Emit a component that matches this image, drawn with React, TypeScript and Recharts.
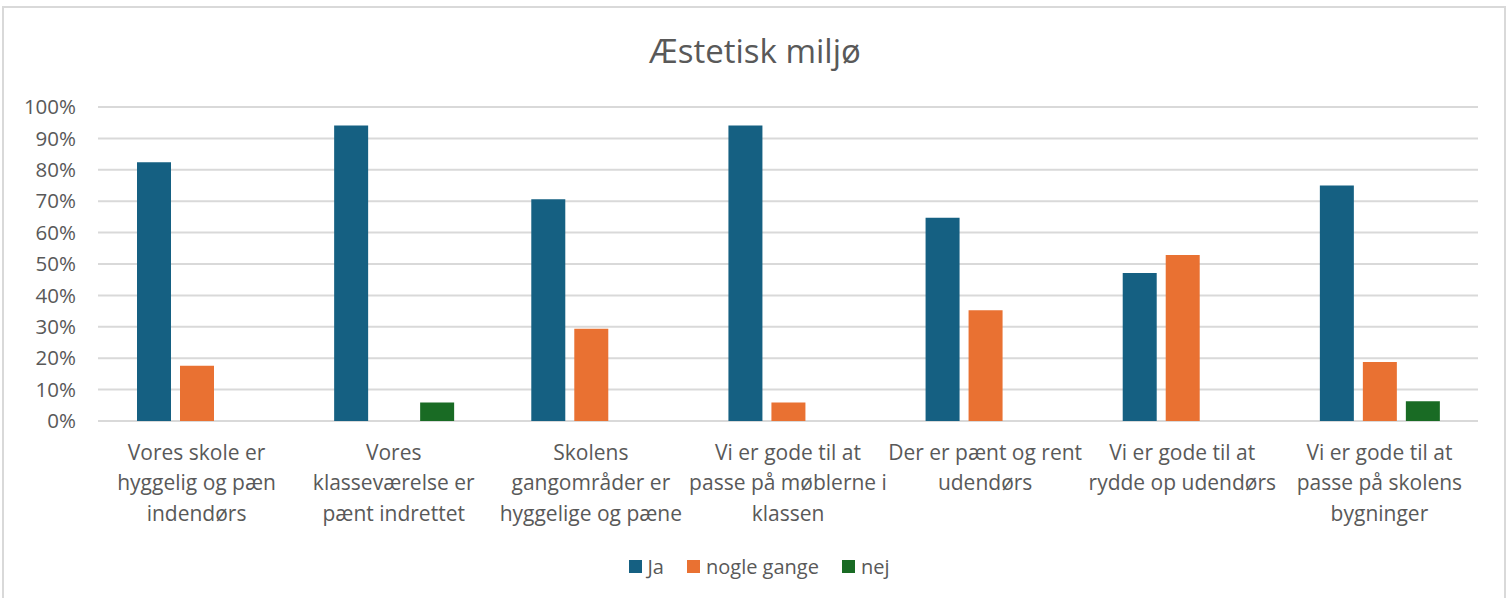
import React from "react";
import { BarChart, Bar, XAxis, YAxis, CartesianGrid, Legend } from "recharts";

// Category labels, with the line breaks the reference shows
const categories: string[] = [
  "Vores skole er\nhyggelig og pæn\nindendørs",
  "Vores\nklasseværelse er\npænt indrettet",
  "Skolens\ngangområder er\nhyggelige og pæne",
  "Vi er gode til at\npasse på møblerne i\nklassen",
  "Der er pænt og rent\nudendørs",
  "Vi er gode til at\nrydde op udendørs",
  "Vi er gode til at\npasse på skolens\nbygninger",
];

const jaValues: number[] = [82.4, 94.1, 70.6, 94.1, 64.7, 47.1, 75.0];
const nogleGangeValues: number[] = [17.6, 0, 29.4, 5.9, 35.3, 52.9, 18.8];
const nejValues: number[] = [0, 5.9, 0, 0, 0, 0, 6.3];

const yTicks: number[] = [0, 10, 20, 30, 40, 50, 60, 70, 80, 90, 100];

const seriesKeys: string[] = ["ja", "nogle", "nej"];
const seriesNames: string[] = ["Ja", "nogle gange", "nej"];
const seriesColors: string[] = ["#156082", "#E97132", "#196B24"];

const title = "Æstetisk miljø";

const data = categories.map((c, i) => ({
  category: c,
  ja: jaValues[i],
  nogle: nogleGangeValues[i],
  nej: nejValues[i],
}));

const FONT = "'Open Sans', sans-serif";
const TEXT_COLOR = "#595959";
const CAT_FONT_SIZE = 21;

const CategoryTick = (props: any) => {
  const { x, y, payload } = props;
  const lines = String(payload.value).split("\n");
  return (
    <text
      x={x}
      y={y}
      textAnchor="middle"
      fill={TEXT_COLOR}
      fontSize={CAT_FONT_SIZE}
      fontFamily={FONT}
    >
      {lines.map((l, i) => (
        <tspan key={i} x={x} y={y + 14 + i * 30.3}>
          {l}
        </tspan>
      ))}
    </text>
  );
};

const LegendContent = () => (
  <div
    style={{
      display: "flex",
      justifyContent: "center",
      alignItems: "center",
      paddingLeft: 10,
      fontFamily: FONT,
      fontSize: 20,
      color: TEXT_COLOR,
      height: 28,
    }}
  >
    {seriesNames.map((name, i) => (
      <div
        key={name}
        style={{
          display: "flex",
          alignItems: "center",
          marginRight: i < seriesNames.length - 1 ? 23 : 0,
        }}
      >
        <span
          style={{
            display: "inline-block",
            width: 13,
            height: 13,
            background: seriesColors[i],
            marginRight: 6,
          }}
        />
        <span>{name}</span>
      </div>
    ))}
  </div>
);

export default function App() {
  return (
    <div
      style={{
        position: "absolute",
        left: 0,
        top: 0,
        width: 1508,
        height: 598,
        background: "#ffffff",
        overflow: "hidden",
        fontFamily: FONT,
      }}
    >
      <div
        style={{
          position: "absolute",
          left: 2,
          top: 6,
          width: 1504,
          height: 620,
          border: "2px solid #D9D9D9",
          boxSizing: "border-box",
        }}
      />
      <svg
        width={1508}
        height={90}
        style={{ position: "absolute", left: 0, top: 0 }}
      >
        <text
          x={755}
          y={63}
          textAnchor="middle"
          fontSize={33}
          fontFamily={FONT}
          fill={TEXT_COLOR}
        >
          {title}
        </text>
      </svg>
      <div style={{ position: "absolute", left: 0, top: 0 }}>
        <BarChart
          width={1508}
          height={598}
          data={data}
          margin={{ top: 107, right: 30, bottom: 0, left: 0 }}
          barSize={34}
          barGap={9}
        >
          <CartesianGrid vertical={false} stroke="#D9D9D9" strokeWidth={2} />
          <XAxis
            dataKey="category"
            height={177}
            interval={0}
            tickLine={false}
            axisLine={false}
            tickSize={0}
            tickMargin={25}
            tick={<CategoryTick />}
          />
          <YAxis
            width={98}
            domain={[0, 100]}
            ticks={yTicks}
            interval={0}
            tickFormatter={(v: number) => `${v}%`}
            tickLine={false}
            axisLine={false}
            tickSize={0}
            tickMargin={22}
            tick={{ fill: TEXT_COLOR, fontSize: 20.5, fontFamily: FONT }}
          />
          <Legend
            verticalAlign="middle"
            align="center"
            wrapperStyle={{ top: 552, left: 0, width: 1508 }}
            content={<LegendContent />}
          />
          {seriesKeys.map((k, i) => (
            <Bar
              key={k}
              dataKey={k}
              name={seriesNames[i]}
              fill={seriesColors[i]}
              isAnimationActive={false}
            />
          ))}
        </BarChart>
      </div>
    </div>
  );
}
